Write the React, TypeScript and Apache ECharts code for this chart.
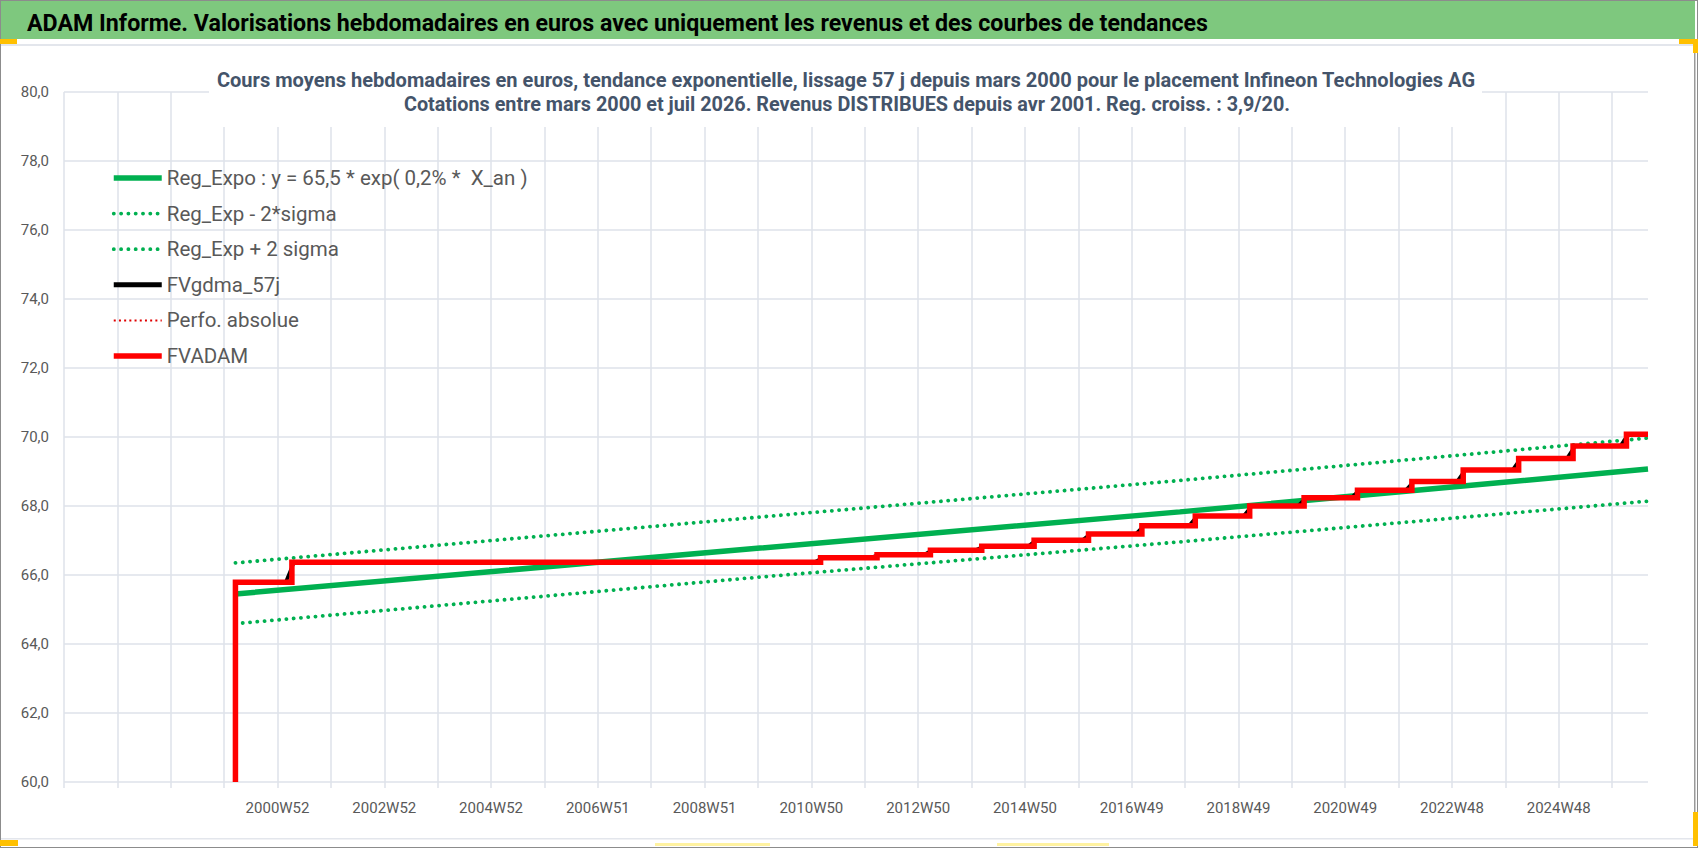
import React, { useEffect, useRef } from 'react';
import * as echarts from 'echarts';

// ---------- data ----------
const AXIS_START = '1996-12-30'; // first (blank) weekly category
const DATA_START = '2000-03-13'; // first quotation
const DATA_END = '2026-07-27'; // last quotation

const Y_MIN = 60;
const Y_MAX = 80;
const Y_STEP = 2;

const trendDates = ['2000-03-13', '2009-12-28', '2017-10-30', '2026-07-27'];
const regExpo = [65.45, 66.78, 67.83, 69.07];
const regMinus2Sigma = [64.59, 65.94, 66.96, 68.14];
const regPlus2Sigma = [66.35, 67.68, 68.74, 69.97];

const fvAdamFloor = 60;
const stepDates = [
  '2000-03-13', '2001-04-02', '2011-02-14', '2012-03-05', '2013-03-04', '2014-02-17',
  '2015-02-09', '2016-02-15', '2017-02-13', '2018-02-12', '2019-02-18', '2020-02-24',
  '2021-02-22', '2022-02-28', '2023-02-13', '2024-02-26', '2025-03-03', '2026-03-02',
];
const fvAdam = [
  65.79, 66.37, 66.5, 66.59, 66.72, 66.83,
  67.01, 67.19, 67.43, 67.71, 68.0, 68.24,
  68.46, 68.71, 69.04, 69.38, 69.74, 70.08,
];
// 57-day smoothed curve: starts rising before each step, joins it shortly after
const gdmaLeadDays = 42;
const gdmaLagDays = 14;
const perfoAbsolue: [string, number][] = [];

const seriesNames = [
  'Reg_Expo : y = 65,5 * exp( 0,2% *  X_an )',
  'Reg_Exp - 2*sigma',
  'Reg_Exp + 2 sigma',
  'FVgdma_57j',
  'Perfo. absolue',
  'FVADAM',
];

const titleText =
  'ADAM Informe. Valorisations hebdomadaires en euros avec uniquement les revenus et des courbes de tendances';
const subtitle1 =
  'Cours moyens hebdomadaires en euros, tendance exponentielle, lissage 57 j depuis mars 2000 pour le placement Infineon Technologies AG';
const subtitle2 =
  'Cotations entre mars 2000 et juil 2026. Revenus DISTRIBUES depuis avr 2001. Reg. croiss. : 3,9/20.';

// ---------- helpers ----------
const DAY = 86400000;
function parseDate(d: string): number {
  const [y, m, dd] = d.split('-').map(Number);
  return Date.UTC(y, m - 1, dd);
}
function isoLabel(t: number): string {
  const d = new Date(t);
  const dow = (d.getUTCDay() + 6) % 7;
  const thu = t + (3 - dow) * DAY;
  const ty = new Date(thu).getUTCFullYear();
  const wk = Math.floor((thu - Date.UTC(ty, 0, 1)) / DAY / 7) + 1;
  return `${ty}W${String(wk).padStart(2, '0')}`;
}
const lab = (d: string) => isoLabel(parseDate(d));

function buildCategories(): string[] {
  const out: string[] = [];
  const s = parseDate(AXIS_START);
  const ds = parseDate(DATA_START);
  const e = parseDate(DATA_END);
  for (let t = s; t <= e; t += 7 * DAY) out.push(t < ds ? '' : isoLabel(t));
  return out;
}

function measure(text: string, font: string): number {
  const c = document.createElement('canvas').getContext('2d');
  if (!c) return 0;
  c.font = font;
  return c.measureText(text).width;
}

const FONT = "Roboto, 'Noto Sans', sans-serif";
const GRID_COLOR = '#DEE2EA';
const LABEL_COLOR = '#595959';
const GREEN = '#00B050';
const RED = '#FF0000';

const solidWide = { width: 5.5 };
const dottedGreen = { width: 3.8, type: [0.1, 7.2] as number[], cap: 'round' as const };
const dottedRed = { width: 2, type: [2, 3.2] as number[] };

function buildOption() {
  const categories = buildCategories();
  const pairs = (dates: string[], vals: number[]) => dates.map((d, i) => [lab(d), vals[i]]);

  const adamData: (string | number)[][] = [[lab(stepDates[0]), fvAdamFloor]];
  stepDates.forEach((d, i) => adamData.push([lab(d), fvAdam[i]]));
  adamData.push([lab(DATA_END), fvAdam[fvAdam.length - 1]]);

  const gdmaData: (string | number)[][] = [
    [lab(stepDates[0]), fvAdamFloor],
    [lab(stepDates[0]), fvAdam[0]],
  ];
  for (let i = 1; i < stepDates.length; i++) {
    const t = parseDate(stepDates[i]);
    gdmaData.push([isoLabel(t - gdmaLeadDays * DAY), fvAdam[i - 1]]);
    gdmaData.push([isoLabel(t + gdmaLagDays * DAY), fvAdam[i]]);
  }
  gdmaData.push([lab(DATA_END), fvAdam[fvAdam.length - 1]]);

  const titleFont = `bold 24px ${FONT}`;
  const subFont = `bold 21px ${FONT}`;
  const tW = measure(titleText, titleFont) || 1181;
  const s1W = measure(subtitle1, subFont) || 1260;
  const s2W = measure(subtitle2, subFont) || 886;

  const legendLineStyles = [
    { ...solidWide },
    { ...dottedGreen },
    { ...dottedGreen },
    { width: 5 },
    { ...dottedRed },
    { ...solidWide },
  ];

  return {
    animation: false,
    backgroundColor: '#ffffff',
    grid: { left: 64, top: 92, width: 1584, height: 690, containLabel: false },
    legend: {
      orient: 'vertical',
      left: 106,
      top: 162,
      itemWidth: 48,
      itemHeight: 14,
      itemGap: 13.6,
      selectedMode: false,
      itemStyle: { opacity: 0 },
      textStyle: { fontFamily: FONT, fontSize: 20.5, color: LABEL_COLOR, lineHeight: 22 },
      data: seriesNames.map((name, i) => ({ name, lineStyle: legendLineStyles[i] })),
    },
    xAxis: {
      type: 'category',
      data: categories,
      boundaryGap: false,
      axisLine: { show: false },
      axisTick: { show: true, interval: 51, length: 6, lineStyle: { color: GRID_COLOR, width: 1.5 } },
      splitLine: { show: true, interval: 51, lineStyle: { color: GRID_COLOR, width: 1.5 } },
      axisLabel: {
        interval: 103,
        margin: 18,
        fontFamily: FONT,
        fontSize: 15,
        color: LABEL_COLOR,
      },
    },
    yAxis: {
      type: 'value',
      min: Y_MIN,
      max: Y_MAX,
      interval: Y_STEP,
      axisLine: { show: false },
      axisTick: { show: false },
      splitLine: { lineStyle: { color: GRID_COLOR, width: 1.5 } },
      axisLabel: {
        margin: 15,
        fontFamily: FONT,
        fontSize: 15,
        color: LABEL_COLOR,
        formatter: (v: number) => v.toFixed(1).replace('.', ','),
      },
    },
    series: [
      {
        name: seriesNames[0],
        type: 'line',
        data: pairs(trendDates, regExpo),
        symbol: 'none',
        lineStyle: { color: GREEN, ...solidWide },
        itemStyle: { color: GREEN },
      },
      {
        name: seriesNames[1],
        type: 'line',
        data: pairs(trendDates, regMinus2Sigma),
        symbol: 'none',
        lineStyle: { color: GREEN, ...dottedGreen },
        itemStyle: { color: GREEN },
      },
      {
        name: seriesNames[2],
        type: 'line',
        data: pairs(trendDates, regPlus2Sigma),
        symbol: 'none',
        lineStyle: { color: GREEN, ...dottedGreen },
        itemStyle: { color: GREEN },
      },
      {
        name: seriesNames[3],
        type: 'line',
        data: gdmaData,
        symbol: 'none',
        lineStyle: { color: '#000000', width: 3.5 },
        itemStyle: { color: '#000000' },
      },
      {
        name: seriesNames[4],
        type: 'line',
        data: perfoAbsolue,
        symbol: 'none',
        lineStyle: { color: '#E00000', ...dottedRed },
        itemStyle: { color: '#E00000' },
      },
      {
        name: seriesNames[5],
        type: 'line',
        data: adamData,
        step: 'end',
        symbol: 'none',
        lineStyle: { color: RED, ...solidWide, join: 'miter' },
        itemStyle: { color: RED },
      },
    ],
    graphic: [
      // frame & banner
      { type: 'rect', z: 50, shape: { x: 0, y: 0, width: 1698, height: 848 }, style: { fill: 'none', stroke: '#8C8C8C', lineWidth: 2 }, silent: true },
      { type: 'rect', z: 50, shape: { x: 1, y: 1, width: 1694, height: 38 }, style: { fill: '#7EC87E' }, silent: true },
      { type: 'rect', z: 50, shape: { x: 1, y: 44, width: 1693, height: 2 }, style: { fill: '#E3E6EC' }, silent: true },
      { type: 'rect', z: 50, shape: { x: 1694, y: 40, width: 1.5, height: 806 }, style: { fill: '#9A9A9A' }, silent: true },
      { type: 'rect', z: 50, shape: { x: 1, y: 838, width: 1693, height: 1.5 }, style: { fill: '#E3E6EC' }, silent: true },
      // selection handles
      { type: 'rect', z: 51, shape: { x: 0, y: 39, width: 17, height: 5 }, style: { fill: '#FFC000' }, silent: true },
      { type: 'rect', z: 51, shape: { x: 1679, y: 39, width: 19, height: 5 }, style: { fill: '#FFC000' }, silent: true },
      { type: 'rect', z: 51, shape: { x: 1693, y: 39, width: 5, height: 14 }, style: { fill: '#FFC000' }, silent: true },
      { type: 'rect', z: 51, shape: { x: 0, y: 840, width: 18, height: 6 }, style: { fill: '#FFC000' }, silent: true },
      { type: 'rect', z: 51, shape: { x: 1693, y: 812, width: 5, height: 34 }, style: { fill: '#FFC000' }, silent: true },
      { type: 'rect', z: 51, shape: { x: 655, y: 843, width: 115, height: 3 }, style: { fill: '#FFF2A0' }, silent: true },
      { type: 'rect', z: 51, shape: { x: 997, y: 843, width: 112, height: 3 }, style: { fill: '#FFF2A0' }, silent: true },
      {
        type: 'text',
        z: 52,
        x: 27,
        y: 23,
        scaleX: 1181 / tW,
        silent: true,
        style: { text: titleText, font: titleFont, fill: '#000000', textAlign: 'left', textVerticalAlign: 'middle' },
      },
      // chart title box
      { type: 'rect', z: 52, shape: { x: 209, y: 58, width: 1273, height: 69 }, style: { fill: '#ffffff' }, silent: true },
      {
        type: 'text',
        z: 53,
        x: 846,
        y: 80,
        scaleX: 1260 / s1W,
        silent: true,
        style: { text: subtitle1, font: subFont, fill: '#44546A', textAlign: 'center', textVerticalAlign: 'middle' },
      },
      {
        type: 'text',
        z: 53,
        x: 847,
        y: 104,
        scaleX: 886 / s2W,
        silent: true,
        style: { text: subtitle2, font: subFont, fill: '#44546A', textAlign: 'center', textVerticalAlign: 'middle' },
      },
    ],
  };
}

export default function App() {
  const ref = useRef<HTMLDivElement>(null);
  useEffect(() => {
    if (!ref.current) return;
    const chart = echarts.init(ref.current, undefined, { renderer: 'svg' });
    chart.setOption(buildOption() as any);
    return () => chart.dispose();
  }, []);
  return (
    <div
      ref={ref}
      style={{ position: 'fixed', left: 0, top: 0, width: 1698, height: 848, background: '#ffffff' }}
    />
  );
}
